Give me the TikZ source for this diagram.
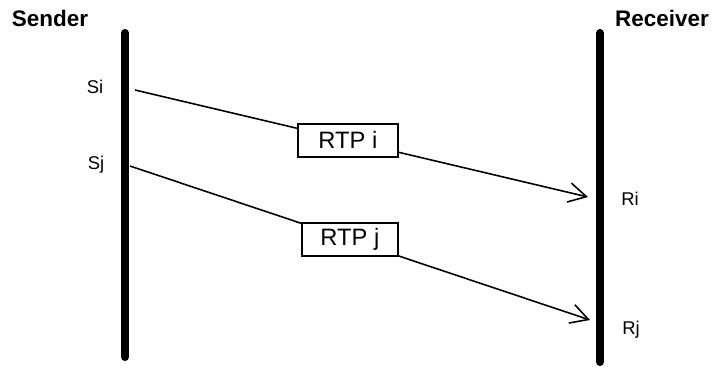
\documentclass[tikz,border=0pt]{standalone}
\usepackage{fontspec}
\setmainfont{Liberation Sans}
\usepackage{tikz}
\usetikzlibrary{arrows.meta,positioning}

\begin{document}
\begin{tikzpicture}[
    x=0.02cm, y=-0.02cm,
    lifeline/.style={line width=4.6pt, line cap=round},
    msg/.style={-{Straight Barb[length=10pt,width=11pt,line width=0.9pt]}, line width=0.9pt},
    packet/.style={draw, fill=white, line width=0.9pt, minimum width=100*0.02cm, minimum height=33*0.02cm, inner sep=0pt, font=\fontsize{13.5}{15}\selectfont},
    side/.style={font=\fontsize{12.8}{15}\selectfont\bfseries},
    event/.style={font=\fontsize{10.5}{12}\selectfont}
]
    \useasboundingbox (0,0) rectangle (715,370);

    % Lifelines
    \coordinate (sendtop) at (125,33);
    \coordinate (sendbot) at (125,357);
    \coordinate (recvtop) at (600,33);
    \coordinate (recvbot) at (600,362);
    \draw[lifeline] (sendtop) -- (sendbot);
    \draw[lifeline] (recvtop) -- (recvbot);

    \node[side] (sender) at (50,18) {Sender};
    \node[side] (receiver) at (662,18) {Receiver};

    % Event points
    \coordinate (si) at (135,90);
    \coordinate (sj) at (130,166);
    \coordinate (ri) at (588,197);
    \coordinate (rj) at (590,320);

    \node[event] (silabel) at (95,87) {Si};
    \node[event] (sjlabel) at (96,165) {Sj};
    \node[event] (rilabel) at (630,199) {Ri};
    \node[event] (rjlabel) at (631,330) {Rj};

    % Messages
    \draw[msg] (si) -- node[packet, pos=0.47] (rtpi) {RTP i} (ri);
    \draw[msg] (sj) -- node[packet, pos=0.478, minimum width=96*0.02cm] (rtpj) {RTP j} (rj);
\end{tikzpicture}
\end{document}
